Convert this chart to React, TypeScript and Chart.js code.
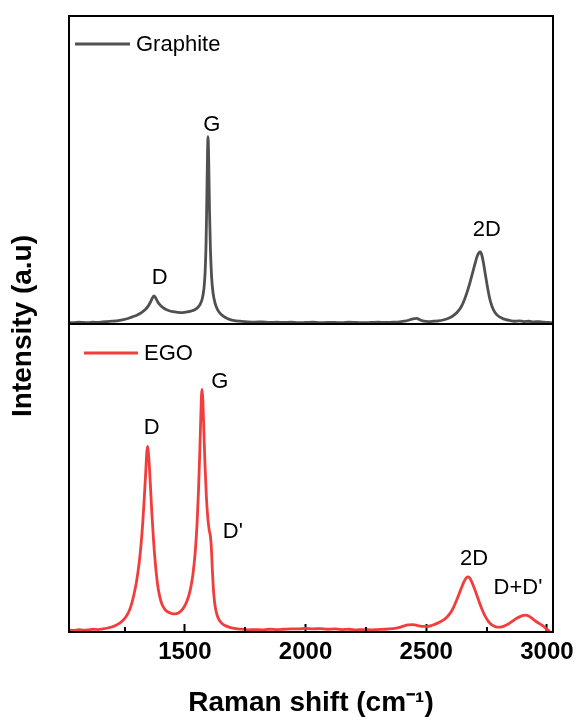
import React, { useEffect, useRef } from 'react';
import { Chart, registerables } from 'chart.js';

Chart.register(...registerables);

const FONT = '"Liberation Sans", Arial, Helvetica, sans-serif';

// Raman shift (cm-1) and intensity (a.u.) of graphite (top panel)
const GRAPHITE_X = [1020,1040,1060,1080,1100,1120,1140,1160,1180,1200,1215,1230,1245,1260,1275,1290,1305,1320,1335,1348,1358,1366,1372,1378,1386,1396,1408,1420,1435,1450,1470,1490,1510,1530,1548,1562,1572,1579,1584,1588,1591,1594,1596,1599,1602,1606,1611,1617,1625,1637,1652,1668,1685,1705,1730,1760,1790,1820,1850,1880,1910,1940,1970,2000,2030,2060,2090,2120,2150,2180,2210,2240,2270,2300,2330,2360,2390,2410,2430,2445,2460,2475,2490,2510,2530,2550,2570,2590,2610,2628,2645,2660,2675,2688,2700,2710,2718,2724,2730,2737,2745,2754,2763,2773,2784,2798,2814,2830,2848,2865,2885,2905,2925,2945,2965,2985,3005,3025];
const GRAPHITE_Y = [0.5,0.4,0.6,0.5,0.4,0.6,0.5,0.7,0.8,0.9,1.0,1.2,1.4,1.7,2.1,2.5,3.0,3.7,4.6,5.8,7.2,8.5,9.1,8.6,7.4,6.3,5.4,4.8,4.3,4.0,3.8,3.7,3.9,4.3,5.0,6.2,8.2,11.5,17,27,41,56,60.8,52,37,24,15,10,6.8,4.4,3.0,2.1,1.5,1.1,0.9,0.7,0.6,0.7,0.5,0.6,0.5,0.6,0.4,0.5,0.6,0.4,0.5,0.5,0.4,0.6,0.5,0.4,0.5,0.6,0.5,0.6,0.7,0.9,1.3,1.7,1.8,1.3,0.9,0.8,0.9,1.0,1.3,1.8,2.6,3.8,5.6,8.3,11.8,15.5,19,21.8,23.1,23.4,22.4,19.8,16,11.8,8.2,5.6,3.8,2.6,1.9,1.4,1.1,0.9,1.0,0.8,0.9,0.7,0.8,0.6,0.5,0.4];

// Raman shift (cm-1) and intensity (a.u.) of EGO (bottom panel)
const EGO_X = [1020,1040,1060,1080,1100,1120,1140,1160,1180,1200,1215,1230,1245,1258,1270,1280,1290,1300,1310,1318,1326,1333,1338,1342,1345,1348,1352,1357,1363,1370,1378,1386,1395,1405,1418,1432,1447,1460,1473,1486,1498,1510,1522,1533,1543,1551,1557,1562,1566,1569,1571,1574,1578,1583,1589,1595,1601,1606,1610,1614,1619,1625,1633,1643,1656,1672,1690,1710,1735,1760,1790,1820,1850,1880,1910,1940,1970,2000,2030,2060,2090,2120,2150,2180,2210,2240,2270,2300,2330,2360,2385,2405,2425,2445,2465,2485,2505,2525,2545,2565,2585,2600,2613,2625,2637,2648,2658,2667,2674,2681,2690,2700,2711,2722,2733,2745,2758,2772,2788,2805,2822,2840,2857,2873,2888,2902,2913,2924,2937,2950,2963,2976,2988,2998,3006,3012];
const EGO_Y = [0.7,0.5,0.8,0.6,0.7,0.9,0.8,1.0,1.3,1.7,2.2,2.9,3.9,5.2,7.0,9.3,12.5,16.5,22,28,36,45,52,58,60.3,59,55,48,39,30,22,16,11.8,9.0,7.3,6.4,6.0,5.9,6.2,7.0,8.3,10.3,13.5,18.5,26,36,47,59,70,77,78.8,76,67,55,44,37,33,31,27,20,13,8.5,5.6,3.8,2.6,1.9,1.4,1.1,0.9,0.7,0.8,0.7,0.9,0.8,0.9,1.0,1.0,1.2,1.0,1.1,0.9,1.0,0.8,0.9,0.7,0.8,0.7,0.8,0.9,1.1,1.4,1.9,2.3,2.4,2.1,1.8,1.8,2.2,2.8,3.6,4.8,6.2,8.0,10.2,12.6,14.8,16.6,17.7,17.9,17.4,16.0,14.0,11.6,9.2,7.0,5.0,3.4,2.3,1.7,1.6,1.9,2.6,3.5,4.4,5.0,5.4,5.5,5.2,4.5,3.7,3.0,2.4,1.7,1.0,0.5,0.2];

const X_TICKS = [1250, 1500, 1750, 2000, 2250, 2500, 2750, 3000];
const MAJOR_TICKS = [1500, 2000, 2500, 3000];

// peak labels, in data coordinates of each panel
const GRAPHITE_LABEL_TEXT = ['G', 'D', '2D'];
const GRAPHITE_LABEL_X = [1612, 1396, 2751];
const GRAPHITE_LABEL_Y = [64.7, 14.9, 30.4];
const EGO_LABEL_TEXT = ['G', 'D', "D'", '2D', "D+D'"];
const EGO_LABEL_X = [1645, 1363, 1699, 2698, 2880];
const EGO_LABEL_Y = [81.1, 66.4, 32.6, 23.8, 14.3];

const GRAPHITE_COLOR = '#505050';
const EGO_COLOR = '#f23d3d';

const decorPlugin = {
  id: 'decor',
  afterDatasetsDraw(chart: any) {
    const { ctx, chartArea: ca, scales } = chart;
    const x = scales.x;
    const yT = scales.yTop;
    const yB = scales.yBot;
    ctx.save();

    // peak labels
    ctx.fillStyle = '#000';
    ctx.font = `22px ${FONT}`;
    ctx.textAlign = 'center';
    ctx.textBaseline = 'middle';
    GRAPHITE_LABEL_TEXT.forEach((t, i) => {
      ctx.fillText(t, x.getPixelForValue(GRAPHITE_LABEL_X[i]), yT.getPixelForValue(GRAPHITE_LABEL_Y[i]));
    });
    EGO_LABEL_TEXT.forEach((t, i) => {
      ctx.fillText(t, x.getPixelForValue(EGO_LABEL_X[i]), yB.getPixelForValue(EGO_LABEL_Y[i]));
    });

    // legends (one per panel)
    const legends = [
      { ds: 0, scale: yT, x0: 6, x1: 61, tx: 67, dy: 28 },
      { ds: 1, scale: yB, x0: 15, x1: 69, tx: 75, dy: 29 },
    ];
    ctx.textAlign = 'left';
    legends.forEach((l) => {
      const ds = chart.data.datasets[l.ds];
      const yy = l.scale.top + l.dy;
      ctx.strokeStyle = ds.borderColor;
      ctx.lineWidth = 3;
      ctx.beginPath();
      ctx.moveTo(ca.left + l.x0, yy);
      ctx.lineTo(ca.left + l.x1, yy);
      ctx.stroke();
      ctx.fillStyle = '#000';
      ctx.fillText(ds.label, ca.left + l.tx, yy + 1);
    });

    // frame and panel divider
    ctx.strokeStyle = '#000';
    ctx.lineWidth = 2;
    ctx.strokeRect(ca.left, ca.top, ca.right - ca.left, ca.bottom - ca.top);
    ctx.beginPath();
    ctx.moveTo(ca.left, yT.bottom);
    ctx.lineTo(ca.right, yT.bottom);
    ctx.stroke();

    // minor ticks
    ctx.lineWidth = 2;
    X_TICKS.filter((v) => !MAJOR_TICKS.includes(v)).forEach((v) => {
      const px = Math.round(x.getPixelForValue(v));
      ctx.beginPath();
      ctx.moveTo(px, ca.bottom);
      ctx.lineTo(px, ca.bottom - 5);
      ctx.stroke();
    });

    // y-axis title spanning both panels
    ctx.translate(23, (ca.top + ca.bottom) / 2 + 2);
    ctx.rotate(-Math.PI / 2);
    ctx.font = `bold 28px ${FONT}`;
    ctx.textAlign = 'center';
    ctx.textBaseline = 'middle';
    ctx.fillStyle = '#000';
    ctx.fillText('Intensity (a.u)', 0, 0);
    ctx.restore();
  },
};

export default function App() {
  const canvasRef = useRef<HTMLCanvasElement | null>(null);

  useEffect(() => {
    if (!canvasRef.current) return;
    const hiddenY = (weight: number) => ({
      type: 'linear',
      position: 'left',
      stack: 'panels',
      stackWeight: 1,
      weight,
      min: 0,
      max: 100,
      ticks: { display: false },
      grid: { display: false, drawTicks: false },
      border: { display: false },
      afterFit: (s: any) => {
        s.width = 69;
        s.paddingTop = 0;
        s.paddingBottom = 0;
      },
    });
    const chart = new Chart(canvasRef.current, {
      type: 'line',
      data: {
        datasets: [
          {
            label: 'Graphite',
            data: GRAPHITE_X.map((v, i) => ({ x: v, y: GRAPHITE_Y[i] })),
            borderColor: GRAPHITE_COLOR,
            backgroundColor: GRAPHITE_COLOR,
            borderWidth: 2.8,
            pointRadius: 0,
            cubicInterpolationMode: 'monotone',
            yAxisID: 'yTop',
          },
          {
            label: 'EGO',
            data: EGO_X.map((v, i) => ({ x: v, y: EGO_Y[i] })),
            borderColor: EGO_COLOR,
            backgroundColor: EGO_COLOR,
            borderWidth: 2.8,
            pointRadius: 0,
            cubicInterpolationMode: 'monotone',
            yAxisID: 'yBot',
          },
        ],
      },
      options: {
        responsive: false,
        animation: false,
        layout: { padding: { top: 16, right: 23, left: 0, bottom: 0 } },
        plugins: { legend: { display: false }, tooltip: { enabled: false } },
        scales: {
          x: {
            type: 'linear',
            position: 'bottom',
            min: 1020,
            max: 3025,
            afterBuildTicks: (s: any) => {
              s.ticks = X_TICKS.map((v) => ({ value: v }));
            },
            afterFit: (s: any) => {
              s.height = 85;
              s.paddingLeft = 0;
              s.paddingRight = 0;
            },
            ticks: {
              autoSkip: false,
              maxRotation: 0,
              padding: 14,
              color: '#000',
              font: { family: FONT, size: 24, weight: 'bold' },
              callback: (v: any) => (MAJOR_TICKS.includes(Number(v)) ? String(v) : ''),
            },
            grid: {
              display: true,
              drawOnChartArea: false,
              drawTicks: true,
              tickLength: -8,
              tickWidth: 2,
              tickColor: (c: any) => (c.tick && MAJOR_TICKS.includes(c.tick.value) ? '#000' : 'rgba(0,0,0,0)'),
            },
            border: { display: false },
            title: {
              display: true,
              text: 'Raman shift (cm⁻¹)',
              color: '#000',
              font: { family: FONT, size: 28, weight: 'bold', lineHeight: 1 },
              padding: { top: 0, bottom: 0 },
            },
          },
          yTop: hiddenY(2),
          yBot: hiddenY(1),
        },
      } as any,
      plugins: [decorPlugin],
    });
    return () => chart.destroy();
  }, []);

  return (
    <div style={{ position: 'absolute', left: 0, top: 0, width: 576, height: 717, background: '#fff' }}>
      <canvas ref={canvasRef} width={576} height={717} />
    </div>
  );
}
